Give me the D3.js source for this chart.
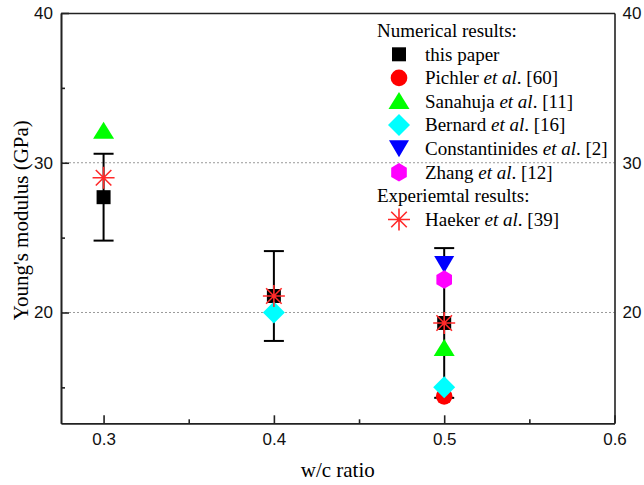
<!DOCTYPE html>
<html>
<head>
<meta charset="utf-8">
<script src="https://cdn.jsdelivr.net/npm/d3@7"></script>
<style>
  html, body { margin: 0; padding: 0; background: #fff; }
  svg { display: block; }
</style>
</head>
<body>
<svg id="chart" width="644" height="485"></svg>
<script>
// w/c ratios shared by every series (null = no value at that ratio)
const wcRatios = [0.3, 0.4, 0.5];

const thisPaper      = [27.7, 21.1, 19.3];
const thisPaperErr   = [2.9, 3.0, 5.0];
const pichler        = [null, null, 14.4];
const sanahuja       = [32.1, null, 17.6];
const bernard        = [null, 20.0, 15.0];
const constantinides = [null, null, 23.2];
const zhang          = [null, null, 22.2];
const haeker         = [29.0, 21.1, 19.3];

const xTicks = [0.3, 0.4, 0.5, 0.6];
const xMinorTicks = [0.35, 0.45, 0.55];
const yTicks = [20, 30, 40];
const yMinorTicks = [15, 25, 35];
const gridValues = [20, 30];

const numericalHeader = "Numerical results:";
const experimentalHeader = "Experiemtal results:";

const plotLeft = 61, plotRight = 614.5, plotTop = 13, plotBottom = 423.3;

const svg = d3.select("#chart");
const x = d3.scaleLinear().domain([0.275, 0.6]).range([plotLeft, plotRight]);
const y = d3.scaleLinear().domain([12.6, 40]).range([plotBottom, plotTop]);

const tickFont = "'Liberation Sans', Arial, sans-serif";
const serif = "'Liberation Serif', 'Times New Roman', serif";
const axisColor = "#222";

// dotted horizontal reference lines
svg.append("g").selectAll("line").data(gridValues).join("line")
  .attr("x1", plotLeft).attr("x2", plotRight)
  .attr("y1", d => y(d)).attr("y2", d => y(d))
  .attr("stroke", "#9a9a9a").attr("stroke-width", 1)
  .attr("stroke-dasharray", "2,2");

// marker shapes
function markerPath(type) {
  switch (type) {
    case "square": return "M-7,-7H7V7H-7Z";
    case "circle": return d3.symbol(d3.symbolCircle, Math.PI * 8.3 * 8.3)();
    case "triangle": return "M0,-9.5L10.5,7.5L-10.5,7.5Z";
    case "diamond": return "M0,-11L11,0L0,11L-11,0Z";
    case "down": return "M-10,-8.5L10,-8.5L0,8.5Z";
    case "hexagon": {
      const r = 9.2, pts = [];
      for (let i = 0; i < 6; i++) {
        const a = Math.PI / 2 + i * Math.PI / 3;
        pts.push([r * Math.cos(a) * 0.98, r * Math.sin(a)]);
      }
      return "M" + pts.map(p => p.join(",")).join("L") + "Z";
    }
    case "star": {
      const r = 11, parts = [];
      for (let i = 0; i < 4; i++) {
        const a = i * Math.PI / 4;
        parts.push(`M${-r * Math.cos(a)},${-r * Math.sin(a)}L${r * Math.cos(a)},${r * Math.sin(a)}`);
      }
      return parts.join("");
    }
  }
}

const series = [
  { name: "this paper", ital: null, ref: "", values: thisPaper, shape: "square", color: "#000000" },
  { name: "Pichler", ital: "et al", ref: ". [60]", values: pichler, shape: "circle", color: "#ff0000" },
  { name: "Sanahuja", ital: "et al", ref: ". [11]", values: sanahuja, shape: "triangle", color: "#00ff00" },
  { name: "Bernard", ital: "et al", ref: ". [16]", values: bernard, shape: "diamond", color: "#00ffff" },
  { name: "Constantinides", ital: "et al", ref: ". [2]", values: constantinides, shape: "down", color: "#0000ff" },
  { name: "Zhang", ital: "et al", ref: ". [12]", values: zhang, shape: "hexagon", color: "#ff00ff" },
  { name: "Haeker", ital: "et al", ref: ". [39]", values: haeker, shape: "star", color: "#ff2a2a" }
];

function drawMarker(g, s, cx, cy) {
  const p = g.append("path")
    .attr("d", markerPath(s.shape))
    .attr("transform", `translate(${cx},${cy})`);
  if (s.shape === "star") {
    p.attr("fill", "none").attr("stroke", s.color).attr("stroke-width", 1.6);
  } else {
    p.attr("fill", s.color);
  }
}

const plot = svg.append("g");

series.forEach((s, si) => {
  const g = plot.append("g");
  if (si === 0) {
    // error bars of this paper's results
    wcRatios.forEach((w, i) => {
      const v = thisPaper[i], e = thisPaperErr[i];
      const cx = x(w);
      g.append("line").attr("x1", cx).attr("x2", cx)
        .attr("y1", y(v + e)).attr("y2", y(v - e))
        .attr("stroke", "#000").attr("stroke-width", 2);
      [v + e, v - e].forEach(c => {
        g.append("line").attr("x1", cx - 10).attr("x2", cx + 10)
          .attr("y1", y(c)).attr("y2", y(c))
          .attr("stroke", "#000").attr("stroke-width", 2);
      });
    });
  }
  wcRatios.forEach((w, i) => {
    const v = s.values[i];
    if (v == null) return;
    drawMarker(g, s, x(w), y(v));
  });
});

// axes
const styleAxis = g => {
  g.select(".domain").attr("stroke", axisColor).attr("stroke-width", 1.6);
  g.selectAll(".tick line").attr("stroke", axisColor).attr("stroke-width", 1.6);
  g.selectAll(".tick text").attr("fill", "#111").style("font-family", tickFont).style("font-size", "17px");
};

svg.append("g").attr("transform", `translate(0,${plotBottom})`)
  .call(d3.axisBottom(x).tickValues(xTicks).tickFormat(d3.format(".1f")).tickSize(-8).tickSizeOuter(0).tickPadding(10))
  .call(styleAxis);
svg.append("g").attr("transform", `translate(0,${plotBottom})`)
  .call(d3.axisBottom(x).tickValues(xMinorTicks).tickFormat("").tickSize(-4).tickSizeOuter(0))
  .call(styleAxis);

svg.append("g").attr("transform", `translate(${plotLeft},0)`)
  .call(d3.axisLeft(y).tickValues(yTicks).tickFormat(d3.format("d")).tickSize(-8).tickSizeOuter(0).tickPadding(8))
  .call(styleAxis);
svg.append("g").attr("transform", `translate(${plotLeft},0)`)
  .call(d3.axisLeft(y).tickValues(yMinorTicks).tickFormat("").tickSize(-4).tickSizeOuter(0))
  .call(styleAxis);

svg.append("g").attr("transform", `translate(${plotRight},0)`)
  .call(d3.axisRight(y).tickValues(yTicks).tickFormat(d3.format("d")).tickSize(0).tickSizeOuter(0).tickPadding(8))
  .call(styleAxis);

svg.append("g").attr("transform", `translate(0,${plotTop})`)
  .call(d3.axisTop(x).tickValues([]).tickSize(0).tickSizeOuter(0))
  .call(styleAxis);

// axis titles
svg.append("text")
  .attr("x", (plotLeft + plotRight) / 2).attr("y", 477)
  .attr("text-anchor", "middle")
  .style("font-family", serif).style("font-size", "21px")
  .text("w/c ratio");

svg.append("text")
  .attr("transform", `translate(28,${(plotTop + plotBottom) / 2 + 2}) rotate(-90)`)
  .attr("text-anchor", "middle")
  .style("font-family", serif).style("font-size", "21px")
  .text("Young's modulus (GPa)");

// legend
const legend = svg.append("g");
const rowH = 23.6, firstRow = 30.7;
const headerX = 377, symX = 399, labelX = 425;
const legendRows = [
  { header: numericalHeader },
  ...series.slice(0, 6),
  { header: experimentalHeader },
  series[6]
];
legendRows.forEach((r, i) => {
  const cy = firstRow + i * rowH;
  const t = legend.append("text")
    .attr("y", cy + 6.3)
    .style("font-family", serif).style("font-size", "19px");
  if (r.header) {
    t.attr("x", headerX).text(r.header);
    return;
  }
  drawMarker(legend, r, symX, cy);
  t.attr("x", labelX);
  t.append("tspan").text(r.name + (r.ital ? " " : ""));
  if (r.ital) {
    t.append("tspan").style("font-style", "italic").text(r.ital);
    t.append("tspan").text(r.ref);
  }
});
</script>
</body>
</html>
